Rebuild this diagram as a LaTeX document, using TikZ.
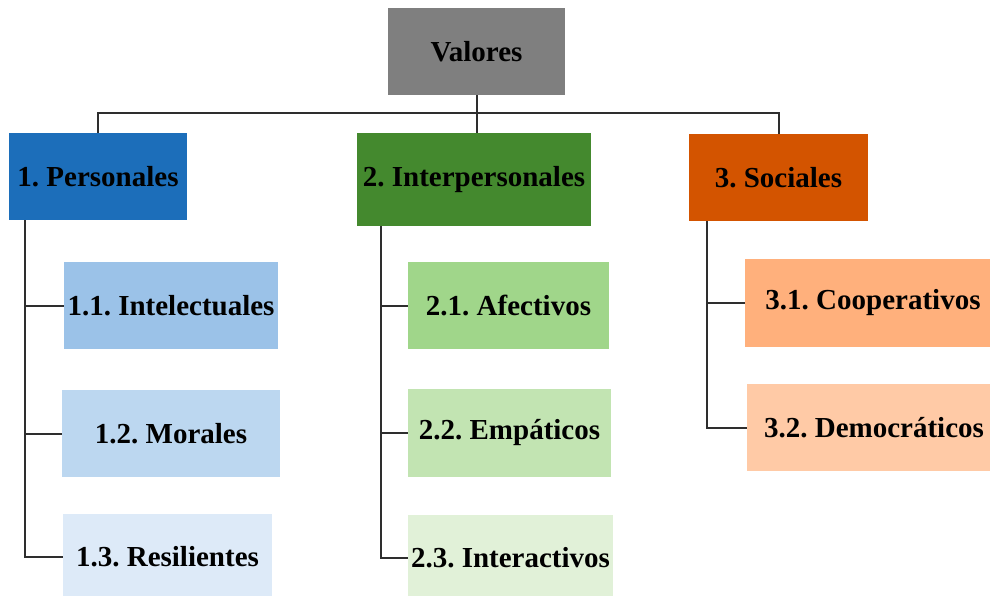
\documentclass[tikz,border=0pt]{standalone}
\usepackage{fontspec}
\setmainfont{Liberation Serif}
\definecolor{cGray}{HTML}{7F7F7F}
\definecolor{cBlue}{HTML}{1C6EBA}
\definecolor{cGreen}{HTML}{44892E}
\definecolor{cOrange}{HTML}{D35400}
\definecolor{cBlueA}{HTML}{9BC2E8}
\definecolor{cBlueB}{HTML}{BCD7F0}
\definecolor{cBlueC}{HTML}{DDEAF8}
\definecolor{cGreenA}{HTML}{A0D68A}
\definecolor{cGreenB}{HTML}{C2E4B2}
\definecolor{cGreenC}{HTML}{E1F1D8}
\definecolor{cOrangeA}{HTML}{FFB07C}
\definecolor{cOrangeB}{HTML}{FFCAA6}
\definecolor{cLine}{HTML}{2E2E2E}
\tikzset{
  box/.style={rectangle, inner sep=0pt, font=\fontsize{29}{32}\selectfont\bfseries\frenchspacing, text=black},
  conn/.style={draw=cLine, line width=2pt}
}
\begin{document}
\begin{tikzpicture}[x=1pt,y=-1pt]
\useasboundingbox (0,0) rectangle (990,596);
\clip (0,0) rectangle (990,596);
\fill[white] (0,0) rectangle (990,596);
% top level
\node[box, fill=cGray, minimum width=177pt, minimum height=87pt] (V) at (476.5,51.5) {Valores};
\node[box, fill=cBlue, minimum width=178pt, minimum height=87pt] (P) at (98,176.5) {1. Personales};
\node[box, fill=cGreen, minimum width=234pt, minimum height=93pt] (I) at (474,179.5) {2. Interpersonales};
\node[box, fill=cOrange, minimum width=179pt, minimum height=87pt] (S) at (778.5,177.5) {3. Sociales};
% children
\node[box, fill=cBlueA, minimum width=214pt, minimum height=87pt] (P1) at (171,305.5) {1.1. Intelectuales};
\node[box, fill=cBlueB, minimum width=218pt, minimum height=87pt] (P2) at (171,433.5) {1.2. Morales};
\node[box, fill=cBlueC, minimum width=209pt, minimum height=86pt] (P3) at (167.5,557) {1.3. Resilientes};
\node[box, fill=cGreenA, minimum width=201pt, minimum height=87pt] (I1) at (508.5,305.5) {2.1. Afectivos};
\node[box, fill=cGreenB, minimum width=203pt, minimum height=88pt] (I2) at (509.5,433) {2.2. Empáticos};
\node[box, fill=cGreenC, minimum width=205pt, minimum height=85pt] (I3) at (510.5,557.5) {2.3. Interactivos};
\node[box, fill=cOrangeA, minimum width=256pt, minimum height=88pt] (S1) at (873,303) {3.1. Cooperativos};
\node[box, fill=cOrangeB, minimum width=254pt, minimum height=87pt] (S2) at (874,427.5) {3.2. Democráticos};
% top connectors
\coordinate (hub) at (476,113);
\draw[conn] (P.north) |- (hub) -| (S.north);
\draw[conn] (V.south) -- (V.south |- I.north);
% spines
\coordinate (sp1) at (25,220);
\coordinate (sp2) at (381,226);
\coordinate (sp3) at (707,221);
\draw[conn] (sp1) |- (P1.west);
\draw[conn] (sp1) |- (P2.west);
\draw[conn] (sp1) |- (P3.west);
\draw[conn] (sp2) |- (I1.west);
\draw[conn] (sp2) |- (I2.west);
\draw[conn] (sp2) |- (I3.west);
\draw[conn] (sp3) |- (S1.west);
\draw[conn] (sp3) |- (S2.west);
\end{tikzpicture}
\end{document}
